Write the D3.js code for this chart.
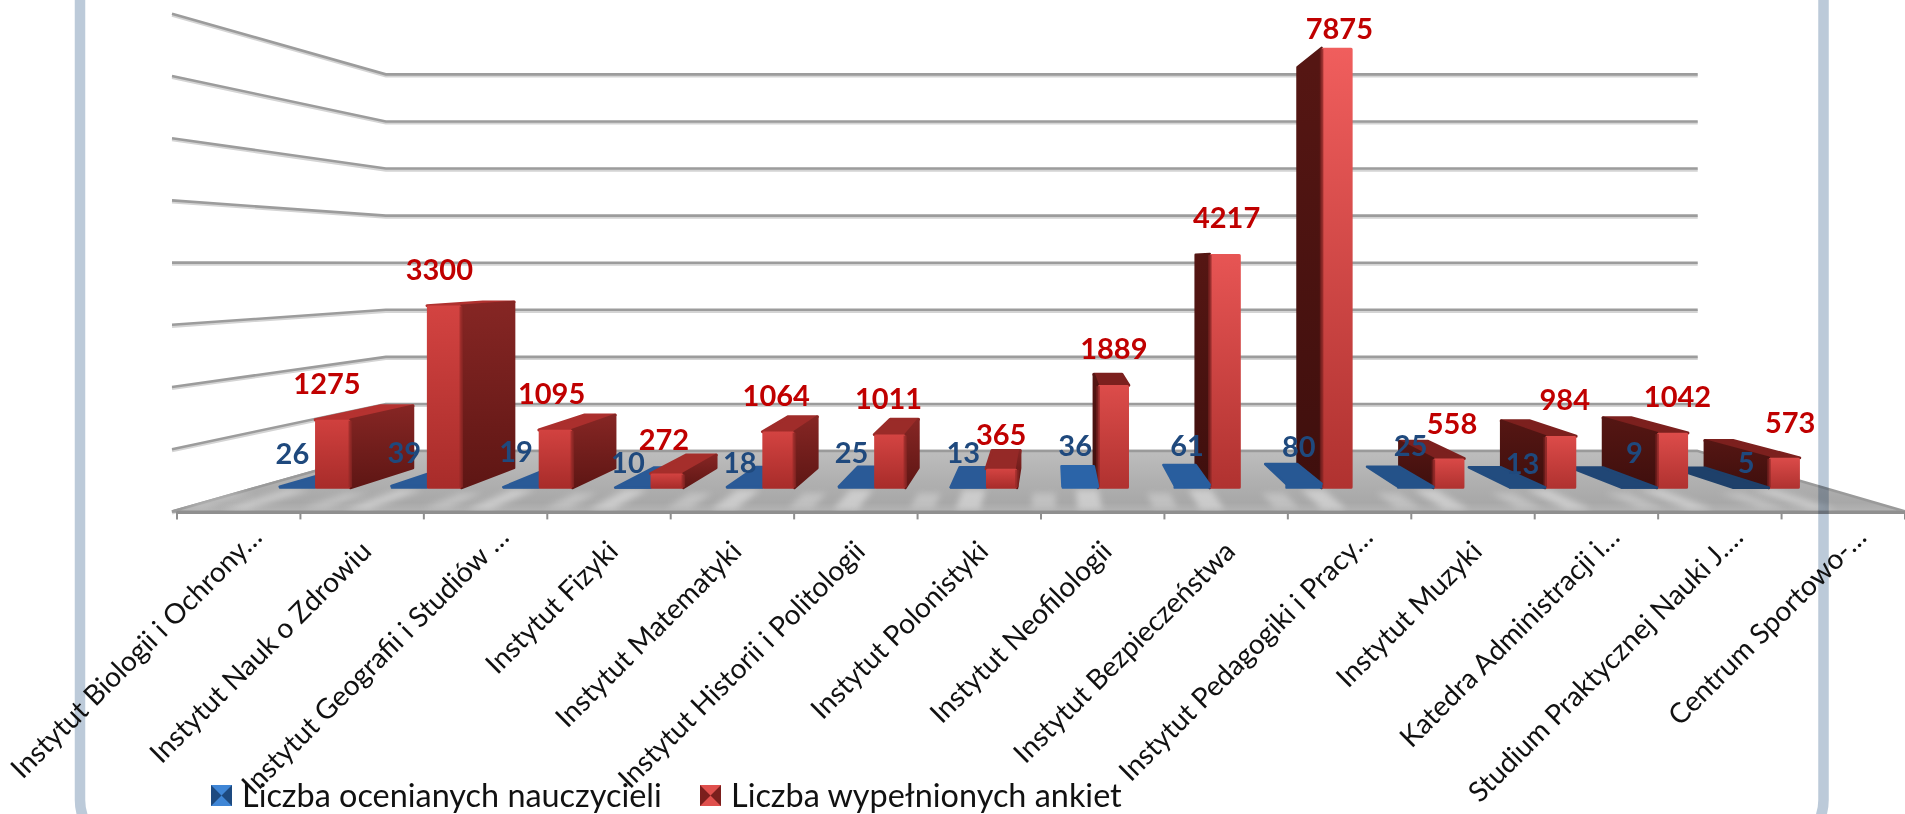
<!DOCTYPE html>
<html><head><meta charset="utf-8">
<script src="https://cdnjs.cloudflare.com/ajax/libs/d3/7.8.5/d3.min.js"></script>
<style>html,body{margin:0;padding:0;background:#fff;overflow:hidden}
svg{display:block;font-family:Lato,"Open Sans",sans-serif;filter:blur(.6px)}</style>
</head><body><svg id="c" width="1905" height="814"></svg>
<script>
const categories=["Instytut Biologii i Ochrony…","Instytut Nauk o Zdrowiu","Instytut Geografii i Studiów …","Instytut Fizyki","Instytut Matematyki","Instytut Historii i Politologii","Instytut Polonistyki","Instytut Neofilologii","Instytut Bezpieczeństwa","Instytut Pedagogiki i Pracy…","Instytut Muzyki","Katedra Administracji i…","Studium Praktycznej Nauki J.…","Centrum Sportowo-…"];
const seriesNames=["Liczba ocenianych nauczycieli","Liczba wypełnionych ankiet"];
const teachers=[26,39,19,10,18,25,13,36,61,80,25,13,9,5];
const surveys=[1275,3300,1095,272,1064,1011,365,1889,4217,7875,558,984,1042,573];
const teacherLabelNudge=[0,0,-2,8,9,-1,-2,-7,-6,-4,-8,9,-2,8];

const svg=d3.select("#c"),defs=svg.append("defs");
const VP={x:1052,y:263};
const x=d3.scaleBand().domain(categories).range([177,1905]);
const xs=d3.scaleBand().domain(seriesNames).range([0,x.bandwidth()]).paddingInner(0).paddingOuter(.574);
const y=d3.scaleLinear().domain([0,8000]).range([511.4,13.8]);
const depth=d3.scaleLinear().domain([0,1]).range([1,.757]);
const dFront=.387,dBack=.72;
const P=(X,Y,d)=>{const s=depth(d);return [VP.x+(X-VP.x)*s,VP.y+(Y-VP.y)*s]};
const poly=a=>"M"+a.map(p=>p.join(",")).join("L")+"Z";
const X0=x.range()[0]-5,X1=x.range()[1];

// gridlines + side wall
const ticks=y.ticks(8);
const line=d3.line();
const grid=svg.append("g").attr("fill","none");
[[1.6,"#d4d4d4",3],[0,"#9c9c9c",2.6]].forEach(([off,col,w])=>{
  grid.selectAll(null).data(ticks).join("path")
   .attr("d",t=>line([P(X0,y(t),0),P(X0,y(t),1),P(X1,y(t),1)].map(p=>[p[0],p[1]+off])))
   .attr("stroke",col).attr("stroke-width",w);
});

// floor
const gFloor=defs.append("linearGradient").attr("id","floor").attr("x1",0).attr("y1",0).attr("x2",0).attr("y2",1);
[[0,"#bdbdbd"],[.5,"#b0b0b0"],[.85,"#a8a8a8"],[1,"#b4b4b4"]].forEach(s=>gFloor.append("stop").attr("offset",s[0]).attr("stop-color",s[1]));
const soft=defs.append("filter").attr("id","soft").attr("x","-50%").attr("width","200%").attr("y","-50%").attr("height","200%");
soft.append("feGaussianBlur").attr("stdDeviation",3.4);
svg.append("path").attr("d",poly([P(X0,y(0),0),P(X0,y(0),1),P(X1,y(0),1),P(X1,y(0),0)])).attr("fill","url(#floor)").attr("stroke","#9a9a9a").attr("stroke-width",2.5);
// glossy streaks on floor
svg.append("g").selectAll("path").data(categories).join("path")
  .attr("d",c=>{const a=x(c)+x.bandwidth()*.30,b=a+x.bandwidth()*.2;return poly([P(a,y(0),.04),P(a,y(0),.36),P(b,y(0),.36),P(b,y(0),.04)])})
  .attr("fill","#fff").attr("opacity",.4).attr("filter","url(#soft)");
svg.append("g").selectAll("path").data(categories).join("path")
  .attr("d",c=>{const a=x(c)-x.bandwidth()*.08,b=a+x.bandwidth()*.2;return poly([P(a,y(0),.06),P(a,y(0),.3),P(b,y(0),.3),P(b,y(0),.06)])})
  .attr("fill","#fff").attr("opacity",.28).attr("filter","url(#soft)");

// axis
svg.append("line").attr("x1",x.range()[0]).attr("x2",x.range()[1]).attr("y1",y(0)+1).attr("y2",y(0)+1).attr("stroke","#8f8f8f").attr("stroke-width",3);
svg.append("g").selectAll("line").data(d3.range(categories.length+1)).join("line")
  .attr("x1",i=>x.range()[0]+i*x.step()).attr("x2",i=>x.range()[0]+i*x.step())
  .attr("y1",y(0)).attr("y2",y(0)+8).attr("stroke","#8f8f8f").attr("stroke-width",2);

// bars
const bars=[];
categories.forEach((c,i)=>{
  bars.push({c,i,s:0,v:teachers[i],X:x(c)+xs(seriesNames[0])});
  bars.push({c,i,s:1,v:surveys[i],X:x(c)+xs(seriesNames[1])});
});
const w=xs.bandwidth();
// the rounded front edge makes faces look narrower towards and beyond the centre
const faceW=d3.scaleLinear().domain([200,900]).range([w,w*.87]).clamp(true);
bars.forEach(b=>{b.mid=b.X+w/2;b.far=Math.abs(b.mid-VP.x)});
bars.sort((a,b)=>b.far-a.far);
const gBars=svg.append("g");
function grad(id,c1,c2,y1,y2){
  const g=defs.append("linearGradient").attr("id",id).attr("gradientUnits","userSpaceOnUse").attr("x1",0).attr("x2",0).attr("y1",y1).attr("y2",y2);
  g.append("stop").attr("offset",0).attr("stop-color",c1);g.append("stop").attr("offset",1).attr("stop-color",c2);
}
bars.forEach((b,idx)=>{
  const inset=Math.min(4,b.v/250);
  const Yt=y(b.v)+inset,Y0=y(0),L=b.X,R=b.s===1?b.X+faceW(b.mid):b.X+w;
  const leftSide=b.mid<VP.x;
  const t=d3.scaleLinear().domain([200,1800]).range([0,1]).clamp(true)(b.mid);
  const fl=P(L,Y0,dFront),fr=P(R,Y0,dFront),tl=P(L,Yt,dFront),tr=P(R,Yt,dFront);
  const tbl=P(L,Yt,dBack),tbr=P(R,Yt,dBack);
  const sideX=leftSide?R:L;
  const side=[P(sideX,Y0,dFront),P(sideX,Y0,dBack),P(sideX,Yt,dBack),P(sideX,Yt,dFront)];
  const g=gBars.append("g").attr("stroke-linejoin","round");
  const tall=b.v/8000;
  if(b.s===1){
    const fTop=d3.interpolateRgb("#cf3f3d","#f05e5d")(Math.min(1,t*.3+tall*(t>.5?1:.2)));
    const fBot=leftSide?"#a82c2a":"#b03230";
    grad("f"+idx,fTop,fBot,tl[1],fl[1]);
    const sTop=leftSide?"#862624":"#551613",sBot=leftSide?"#5e1614":"#3f0f0d";
    grad("s"+idx,sTop,sBot,side[2][1],side[0][1]);
    if(Yt>VP.y){
      const tc=leftSide?d3.interpolateRgb("#b83331","#8c2724")(Math.min(1,t*1.6)):"#7c201e";
      g.append("path").attr("d",poly([tl,tr,tbr,tbl])).attr("fill",tc).attr("stroke",tc).attr("stroke-width",3);
    }
    g.append("path").attr("d",poly(side)).attr("fill","url(#s"+idx+")").attr("stroke","url(#s"+idx+")").attr("stroke-width",2.5);
    const inX=1.5;
    const face=[P(L+inX,Yt+1.5,dFront),P(R-inX,Yt+1.5,dFront),P(R-inX,Y0-1,dFront),P(L+inX,Y0-1,dFront)];
    g.append("path").attr("d",poly(face)).attr("fill","url(#f"+idx+")").attr("stroke","url(#f"+idx+")").attr("stroke-width",3);
    const hx=leftSide?R:L,h1=P(hx,Yt+1,dFront),h2=P(hx,Y0-1,dFront);
    g.append("line").attr("x1",h1[0]).attr("x2",h2[0]).attr("y1",h1[1]).attr("y2",h2[1]).attr("stroke",leftSide?"#8e2826":"#7a2120").attr("stroke-width",3.5).attr("opacity",.7);
  }else{
    const col=leftSide?"#2a5a97":d3.interpolateRgb("#2c66ab","#1d3f68")((b.mid-VP.x)/800);
    g.append("path").attr("d",poly([tl,tr,tbr,tbl])).attr("fill",col).attr("stroke",col).attr("stroke-width",2.5);
    g.append("path").attr("d",poly([tl,tr,fr,fl])).attr("fill",col).attr("stroke",col).attr("stroke-width",1.5);
  }
});

// frame, multiplied so the translucent floor tints it
svg.append("rect").attr("x",80).attr("y",-120).attr("width",1743.5).attr("height",968).attr("rx",48)
  .attr("fill","none").attr("stroke","#bccad9").attr("stroke-width",10.5).style("mix-blend-mode","multiply");

// value labels
const labelTop=29;
const labelSpread=px=>VP.x+(px-VP.x)*1.008;
svg.append("g").selectAll("text").data(categories).join("text")
  .attr("x",(c,i)=>{const X=x(c)+xs(seriesNames[1]);return labelSpread(P(X+faceW(X+w/2)/2,0,dFront)[0])})
  .attr("y",(c,i)=>Math.max(labelTop,P(0,y(surveys[i]),dFront)[1]-33))
  .attr("dy",".36em").attr("text-anchor","middle").attr("font-size",29).attr("font-weight",700).attr("fill","#c00000")
  .text((c,i)=>surveys[i]);
svg.append("g").selectAll("text").data(categories).join("text")
  .attr("x",(c,i)=>P(x(c)+xs(seriesNames[0])+w/2,0,dFront)[0]-5)
  .attr("y",(c,i)=>P(0,y(teachers[i]),dFront)[1]-33+teacherLabelNudge[i])
  .attr("dy",".36em").attr("text-anchor","middle").attr("font-size",29).attr("font-weight",700).attr("fill","#1f497d")
  .text((c,i)=>teachers[i]);

// category labels
svg.append("g").selectAll("text").data(categories).join("text")
  .attr("transform",c=>`translate(${x(c)+x.bandwidth()/2+18},532) rotate(-45)`)
  .attr("text-anchor","end").attr("dx",c=>c.endsWith("…")?0:-20).attr("dy",".35em").attr("font-size",28).attr("fill","#111")
  .text(c=>c);

// legend
const legendX=d3.scaleOrdinal().domain(seriesNames).range([211,700]);
const legendCols=[["#3f86d6","#1d4a80"],["#e0504d","#7c1f1d"]];
const lg=svg.append("g").selectAll("g").data(seriesNames).join("g").attr("transform",d=>`translate(${legendX(d)},785)`);
lg.append("rect").attr("width",21).attr("height",21).attr("fill",(d,i)=>legendCols[i][1]);
lg.append("path").attr("d","M0,0L21,0L10.5,10.5L21,21L0,21L10.5,10.5Z").attr("fill",(d,i)=>legendCols[i][0]);
lg.append("text").attr("x",31).attr("y",11).attr("dy",".35em").attr("font-size",32.4).attr("fill","#111").text(d=>d);
</script></body></html>
